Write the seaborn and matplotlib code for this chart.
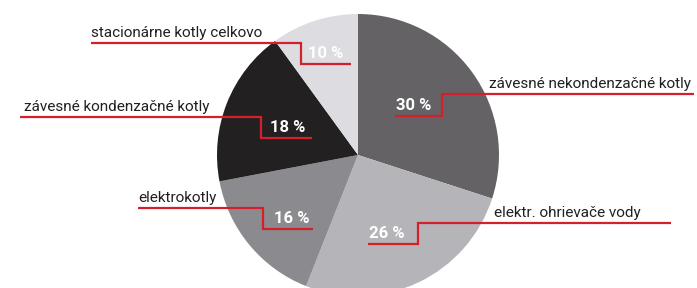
import matplotlib
matplotlib.use("Agg")
import matplotlib.pyplot as plt
import seaborn as sns

# data (clockwise from 12 o'clock)
categories = ["závesné nekondenzačné kotly", "elektr. ohrievače vody", "elektrokotly",
              "závesné kondenzačné kotly", "stacionárne kotly celkovo"]
shares = [30, 26, 16, 18, 10]
colors = ["#646264", "#b5b4b8", "#8b8a8e", "#222020", "#dddce0"]

# layout in pixels, y measured from the top
W, H = 697, 288
pie_center = (358, 155)
pie_radius = 141
# (label x, line start x, line y, step x, drop y, end x, pct x)
leaders = [
    (489, 694, 94, 442, 116, 395, 396),
    (494, 671, 223, 418, 244, 368, 369),
    (138, 138, 208, 263, 229, 313, 274),
    (24, 20, 117, 261, 138, 312, 270),
    (91, 91, 43, 301, 64, 351, 308),
]

sns.set_style("white")
plt.rcParams["font.family"] = ["Roboto", "DejaVu Sans"]

fig = plt.figure(figsize=(W / 100, H / 100), dpi=100)
ax = fig.add_axes([0, 0, 1, 1])

ax.pie(shares, colors=colors, startangle=90, counterclock=False,
       center=(pie_center[0], H - pie_center[1]), radius=pie_radius,
       wedgeprops=dict(linewidth=0), frame=True)

red = "#d3202a"
for cat, val, (tx, lx, ly, sx, dy, ex, px) in zip(categories, shares, leaders):
    ax.plot([lx, sx, sx, ex], [H - ly, H - ly, H - dy, H - dy],
            color=red, lw=1.6, solid_capstyle="butt", solid_joinstyle="miter")
    ax.text(tx, H - ly + 3, cat, fontsize=11, color="#231f20", ha="left", va="bottom")
    ax.text(px, H - dy + 3, f"{val} %", fontsize=12, fontweight="bold",
            color="white", ha="left", va="bottom")

ax.set_xlim(0, W)
ax.set_ylim(0, H)
ax.axis("off")

fig.savefig("out.png", dpi=100)
